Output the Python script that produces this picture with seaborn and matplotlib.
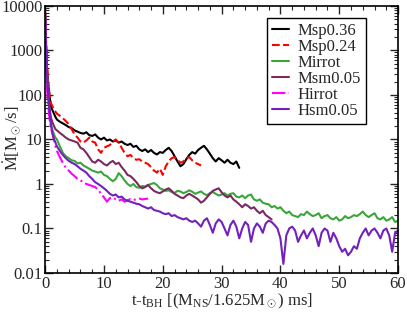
import numpy as np
import pandas as pd
import matplotlib
matplotlib.use("Agg")
import matplotlib.pyplot as plt
from matplotlib.ticker import MultipleLocator, LogLocator, FuncFormatter, NullFormatter
import seaborn as sns

# ---------------- data ----------------
labels = ["Msp0.36", "Msp0.24", "Mirrot", "Msm0.05", "Hirrot", "Hsm0.05"]
colors = ["#000000", "#ff0000", "#3aa63a", "#7a2a60", "#ff00ff", "#7221bc"]
styles = ["-", "--", "-", "-", "-.", "-"]

early_t = [0.0, 0.1, 0.2, 0.35, 0.5, 0.75, 1.0, 1.25, 1.5, 1.75]
grid_start = 2.0
grid_step = 0.5

msp036_early = [7000, 2500, 900, 350, 180, 90, 55, 45, 38, 32]
msp036 = [28, 25, 23, 21, 19, 18, 16, 15, 14, 13.5, 14.5, 12.5, 12, 13, 11, 10, 11, 9.5, 10, 9,
          9.5, 8.5, 9, 8, 7.5, 8, 6.8, 7.2, 6, 5.5, 6, 5.2, 5.8, 5, 4.6, 5.2, 5, 5.8, 6.5, 5.5,
          4.2, 3.2, 2.5, 2.8, 3.6, 4.5, 5.2, 4.8, 5.8, 6.5, 7.2, 6, 4.8, 3.8, 3.2, 3.8, 3.4, 3.0,
          3.5, 3.0, 2.8, 3.2, 2.3]

msp024_early = [7000, 2600, 1000, 400, 200, 100, 65, 55, 47, 42]
msp024 = [38, 34, 30, 26, 22, 17, 13, 11, 9, 8.5, 9.5, 11, 9, 8.5, 6, 5, 6.5, 7, 7.5, 9,
          10, 8.5, 6.5, 5, 4.2, 4.5, 3.8, 3.5, 3.6, 3.2, 3.0, 2.8, 2.4, 2.0, 1.8, 2.2, 1.6, 2.5,
          3.2, 3.8, 4.0, 3.5, 3.0, 3.2, 3.8, 4.0, 3.4, 3.0, 2.8, 2.6]

mirrot_early = [6000, 1800, 600, 220, 100, 40, 22, 16, 13, 11]
mirrot = [10, 7, 5, 4.2, 3.8, 3.4, 3.3, 2.9, 3.0, 2.6, 2.4, 2.2, 2.0, 1.9, 1.8, 1.9, 1.6, 1.5,
          1.3, 1.15, 1.3, 1.75, 1.5, 1.2, 1.0, 0.9, 1.0, 0.85, 0.82, 0.9, 0.88, 0.95, 1.0, 1.05,
          0.95, 0.8, 0.75, 0.7, 0.72, 0.66, 0.63, 0.7, 0.68, 0.62, 0.66, 0.72, 0.67, 0.6, 0.64,
          0.68, 0.6, 0.56, 0.62, 0.66, 0.6, 0.55, 0.58, 0.62, 0.55, 0.6, 0.62, 0.52, 0.5, 0.55,
          0.48, 0.55, 0.58, 0.45, 0.42, 0.45, 0.38, 0.36, 0.35, 0.3, 0.32, 0.28, 0.3, 0.25, 0.22,
          0.24, 0.2, 0.19, 0.18, 0.21, 0.2, 0.24, 0.21, 0.19, 0.2, 0.22, 0.17, 0.19, 0.2, 0.17,
          0.16, 0.18, 0.15, 0.16, 0.19, 0.17, 0.18, 0.2, 0.19, 0.21, 0.24, 0.2, 0.18, 0.2, 0.22,
          0.17, 0.16, 0.18, 0.15, 0.16, 0.18, 0.14, 0.15]

msm005_early = [6500, 2000, 700, 260, 120, 50, 30, 24, 20, 17]
msm005 = [16, 14, 12.5, 11, 10, 9.5, 9, 8.5, 6.5, 6, 5, 4, 3.2, 3, 3.5, 3.2, 2.8, 2.6, 3.0, 3.3,
          2.8, 3.0, 2.4, 2.0, 1.6, 1.5, 1.3, 1.1, 0.9, 0.8, 0.85, 0.95, 0.8, 0.7, 0.65, 0.62,
          0.68, 0.75, 0.8, 0.7, 0.6, 0.55, 0.5, 0.48, 0.55, 0.6, 0.55, 0.5, 0.45, 0.38, 0.42,
          0.5, 0.6, 0.7, 0.75, 0.8, 0.65, 0.55, 0.5, 0.55, 0.45, 0.4, 0.35, 0.3, 0.35, 0.32,
          0.28, 0.3, 0.25, 0.22, 0.25, 0.2, 0.18, 0.16]

hirrot_early = [5000, 1200, 400, 120, 60, 28, 18, 13, 10, 7]
hirrot = [5.5, 4.0, 3.0, 2.3, 2.0, 1.7, 1.5, 1.3, 1.2, 1.1, 1.0, 0.95, 0.9, 0.85, 0.75, 0.6,
          0.5, 0.4, 0.48, 0.5, 0.45, 0.42, 0.45, 0.4, 0.43, 0.46, 0.44, 0.45, 0.47, 0.45, 0.46,
          0.47]

hsm005_early = [6000, 1800, 600, 220, 100, 40, 20, 14, 10, 8.5]
hsm005 = [7, 5.5, 4.5, 3.8, 3.3, 3.0, 2.8, 2.5, 2.2, 2.0, 1.8, 1.5, 1.3, 1.1, 1.0, 0.9, 0.8, 0.7,
          0.6, 0.55, 0.58, 0.5, 0.52, 0.45, 0.42, 0.4, 0.38, 0.36, 0.35, 0.32, 0.3, 0.28, 0.3,
          0.26, 0.25, 0.24, 0.22, 0.21, 0.22, 0.19, 0.2, 0.18, 0.17, 0.16, 0.17, 0.15, 0.14,
          0.15, 0.13, 0.11, 0.15, 0.17, 0.12, 0.08, 0.13, 0.16, 0.14, 0.1, 0.07, 0.12, 0.15,
          0.11, 0.06, 0.1, 0.14, 0.12, 0.05, 0.1, 0.13, 0.11, 0.08, 0.13, 0.15, 0.14, 0.12, 0.1,
          0.06, 0.016, 0.07, 0.1, 0.11, 0.09, 0.05, 0.07, 0.09, 0.06, 0.08, 0.1, 0.07, 0.04,
          0.08, 0.1, 0.09, 0.05, 0.08, 0.06, 0.04, 0.03, 0.035, 0.025, 0.03, 0.04, 0.035, 0.06,
          0.08, 0.1, 0.07, 0.09, 0.1, 0.08, 0.06, 0.09, 0.1, 0.07, 0.03, 0.08, 0.09]

series_early = [msp036_early, msp024_early, mirrot_early, msm005_early, hirrot_early, hsm005_early]
series = [msp036, msp024, mirrot, msm005, hirrot, hsm005]

x_ticks = [0, 10, 20, 30, 40, 50, 60]
y_ticks = [0.01, 0.1, 1, 10, 100, 1000, 10000]

# ---------------- style ----------------
sns.set_style("ticks")
plt.rcParams["font.family"] = ["Liberation Serif", "DejaVu Serif"]
plt.rcParams["mathtext.fontset"] = "custom"
plt.rcParams["mathtext.rm"] = "Liberation Serif"
plt.rcParams["mathtext.it"] = "Liberation Serif:italic"
plt.rcParams["mathtext.bf"] = "Liberation Serif:bold"
plt.rcParams["font.size"] = 12

fig = plt.figure(figsize=(4.07, 3.12), dpi=100)
ax = fig.add_axes([0.111, 0.125, 0.867, 0.856])

for lab, col, ls, e, s in zip(labels, colors, styles, series_early, series):
    t = np.concatenate([early_t, grid_start + grid_step * np.arange(len(s))])
    v = np.concatenate([e, s])
    df = pd.DataFrame({"t": t, "v": v})
    sns.lineplot(data=df, x="t", y="v", ax=ax, color=col, linestyle=ls, lw=1.5,
                 label=lab, estimator=None, sort=False)

ax.set_yscale("log")
ax.set_xlim(0, 60)
ax.set_ylim(0.01, 10000)
ax.xaxis.set_major_locator(MultipleLocator(10))
ax.xaxis.set_minor_locator(MultipleLocator(2))
ax.yaxis.set_major_locator(LogLocator(base=10, numticks=20))
ax.yaxis.set_minor_locator(LogLocator(base=10, subs=np.arange(2, 10), numticks=20))
ax.yaxis.set_major_formatter(FuncFormatter(lambda v, p: "%g" % v))
ax.yaxis.set_minor_formatter(NullFormatter())
ax.set_xticks(x_ticks)
ax.set_xticklabels([str(x) for x in x_ticks])

ax.tick_params(which="both", direction="in", top=True, right=True, labelsize=12, pad=2)
ax.tick_params(which="major", length=6, width=1)
ax.tick_params(which="minor", length=3, width=0.8)
for sp in ax.spines.values():
    sp.set_linewidth(1.2)
    sp.set_color("black")

ax.set_xlabel(r"t-t$_{\rm BH}$ [(M$_{\rm NS}$/1.625M$_\odot$) ms]", fontsize=12)
ax.xaxis.set_label_coords(0.5, -0.069)
ax.set_ylabel(r"$\dot{\mathrm{M}}$[M$_\odot$/s]", fontsize=12)
ax.yaxis.set_label_coords(-0.064, 0.505)

leg = ax.legend(loc="upper left", bbox_to_anchor=(0.629, 0.955), fontsize=12,
                frameon=True, fancybox=False, edgecolor="black", framealpha=1,
                labelspacing=0.0, borderpad=0.3, handlelength=1.0, handletextpad=0.5,
                borderaxespad=0)
leg.get_frame().set_linewidth(1.0)

fig.savefig("out.png", dpi=100)
